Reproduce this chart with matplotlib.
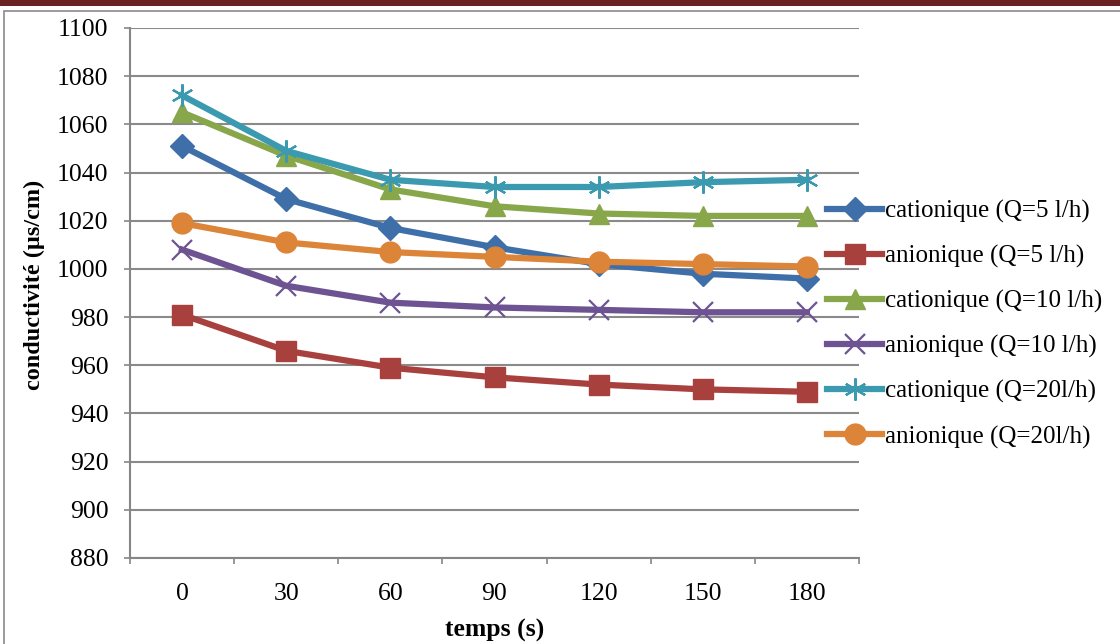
import matplotlib
matplotlib.use("Agg")
import matplotlib.pyplot as plt
from matplotlib.patches import Rectangle

plt.rcParams['font.family'] = ['Liberation Serif', 'DejaVu Serif']

temps = ['0', '30', '60', '90', '120', '150', '180']
cat5 = [1051, 1029, 1017, 1009, 1002, 998, 996]
an5 = [981, 966, 959, 955, 952, 950, 949]
cat10 = [1065, 1047, 1033, 1026, 1023, 1022, 1022]
an10 = [1008, 993, 986, 984, 983, 982, 982]
cat20 = [1072, 1049, 1037, 1034, 1034, 1036, 1037]
an20 = [1019, 1011, 1007, 1005, 1003, 1002, 1001]
labels = ['cationique (Q=5 l/h)', 'anionique (Q=5 l/h)', 'cationique (Q=10 l/h)',
          'anionique (Q=10 l/h)', 'cationique (Q=20l/h)', 'anionique (Q=20l/h)']
yticks = list(range(880, 1101, 20))

series = [cat5, an5, cat10, an10, cat20, an20]
colors = ['#3e6fa9', '#a8403e', '#88a64a', '#6d5391', '#3b9aaf', '#dc8438']
markers = ['D', 's', '^', 'x', '*', 'o']
msizes = [12.5, 15, 15, 14, 16, 15]

fig = plt.figure(figsize=(11.2, 6.44), dpi=100)
# top dark bar and border
fig.patches.append(Rectangle((0, 1 - 6/644), 1, 6/644, transform=fig.transFigure,
                             facecolor='#6b2222', edgecolor='none'))
fig.patches.append(Rectangle((4/1120, -0.01), 1.1, 1 - 11/644 + 0.01, transform=fig.transFigure,
                             facecolor='none', edgecolor='#8a8a8a', linewidth=1.2))

ax = fig.add_axes([130/1120, 86/644, 729/1120, 530/644])
x = list(range(len(temps)))
for s, c, m, ms, lab in zip(series, colors, markers, msizes, labels):
    if m in ('x', '*'):
        mk = m if m == 'x' else (6, 2, 0)
        ax.plot(x, s, color=c, linewidth=4.5, marker=mk, markersize=ms,
                markeredgewidth=1.6, markeredgecolor=c, markerfacecolor=c, label=lab)
    else:
        ax.plot(x, s, color=c, linewidth=4.5, marker=m, markersize=ms,
                markeredgecolor=c, markerfacecolor=c, label=lab)

ax.set_xlim(-0.5, len(temps) - 0.5)
ax.set_ylim(880, 1100)
ax.set_yticks(yticks)
ax.set_xticks(x)
ax.set_xticklabels(temps)
ax.set_xticks([i - 0.5 for i in range(len(temps) + 1)], minor=True)
ax.tick_params(axis='x', which='major', length=0, pad=18, labelsize=18.5)
ax.tick_params(axis='x', which='minor', length=4.5, color='#868686', width=1.2)
ax.tick_params(axis='y', length=4.5, color='#868686', width=1.2, labelsize=18.5, pad=11)
ax.grid(axis='y', color='#8a8a8a', linewidth=1.5)
ax.set_axisbelow(True)
for sp in ['top', 'right']:
    ax.spines[sp].set_visible(False)
for sp in ['left', 'bottom']:
    ax.spines[sp].set_color('#868686')
    ax.spines[sp].set_linewidth(1.5)

ax.set_xlabel('temps (s)', fontsize=18.5, fontweight='bold', labelpad=10)
ax.set_ylabel('conductivité (µs/cm)', fontsize=17.5, fontweight='bold')
ax.yaxis.set_label_coords(-(130 - 45) / 729, (558 - 285) / 530)

leg = ax.legend(loc='upper left', bbox_to_anchor=(827/1120, 1 - 200/644), bbox_transform=fig.transFigure,
                frameon=False, fontsize=18, handlelength=2.2, handletextpad=0.12,
                labelspacing=0.88, borderpad=0, borderaxespad=0)

fig.savefig('out.png', dpi=100)
